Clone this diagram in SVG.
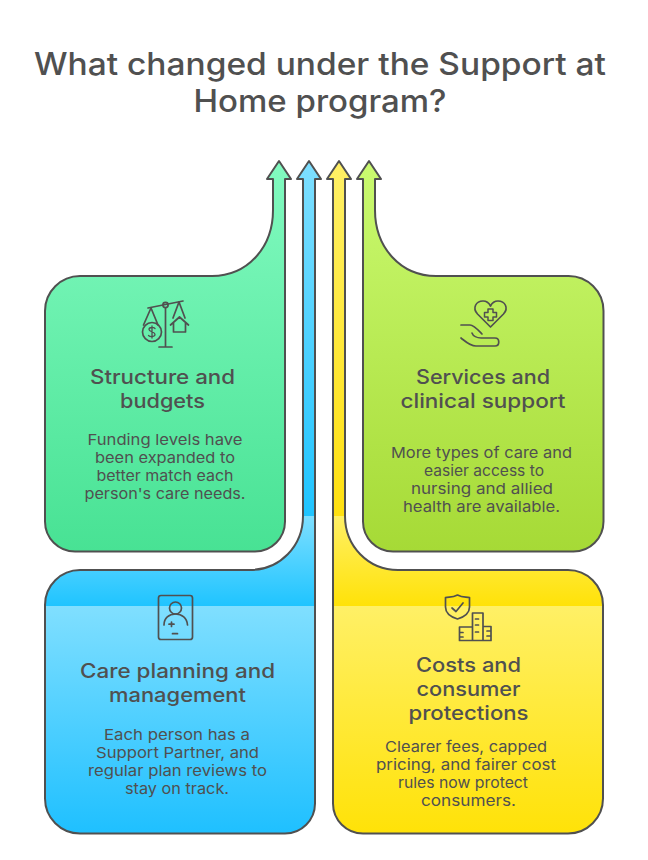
<svg xmlns="http://www.w3.org/2000/svg" width="648" height="860" viewBox="0 0 648 860">
<style>
text{font-family:"Inter","Open Sans","DejaVu Sans",sans-serif;fill:#505050;text-anchor:middle}
.t{font-size:31px;font-weight:500}
.h{font-size:20px;font-weight:500}
.b{font-size:15px}
.s{stroke:#505050;stroke-width:2;stroke-linejoin:round}
.i{fill:none;stroke:#505050;stroke-width:1.7;stroke-linecap:round;stroke-linejoin:round}
</style>
<defs>
<linearGradient id="gG" x1="0" y1="161" x2="0" y2="551" gradientUnits="userSpaceOnUse"><stop offset="0" stop-color="#82fac0"/><stop offset="1" stop-color="#48e294"/></linearGradient>
<linearGradient id="gL" x1="0" y1="161" x2="0" y2="551" gradientUnits="userSpaceOnUse"><stop offset="0" stop-color="#cafa70"/><stop offset="1" stop-color="#a6da36"/></linearGradient>
<linearGradient id="gB1" x1="0" y1="161" x2="0" y2="516" gradientUnits="userSpaceOnUse"><stop offset="0" stop-color="#7edfff"/><stop offset="1" stop-color="#1fc4ff"/></linearGradient>
<linearGradient id="gB2" x1="0" y1="516" x2="0" y2="606" gradientUnits="userSpaceOnUse"><stop offset="0" stop-color="#7edfff"/><stop offset="1" stop-color="#1fc4ff"/></linearGradient>
<linearGradient id="gB3" x1="0" y1="606" x2="0" y2="833" gradientUnits="userSpaceOnUse"><stop offset="0" stop-color="#80dfff"/><stop offset="1" stop-color="#1fc0ff"/></linearGradient>
<linearGradient id="gY1" x1="0" y1="161" x2="0" y2="516" gradientUnits="userSpaceOnUse"><stop offset="0" stop-color="#fff066"/><stop offset="1" stop-color="#ffe010"/></linearGradient>
<linearGradient id="gY2" x1="0" y1="516" x2="0" y2="606" gradientUnits="userSpaceOnUse"><stop offset="0" stop-color="#fff066"/><stop offset="1" stop-color="#ffe208"/></linearGradient>
<linearGradient id="gY3" x1="0" y1="606" x2="0" y2="833" gradientUnits="userSpaceOnUse"><stop offset="0" stop-color="#fff066"/><stop offset="1" stop-color="#ffe208"/></linearGradient>
<path id="pB" d="M309 161L321 179H315V803.500A30 30 0 0 1 285 833.500H80A35 35 0 0 1 45 798.500V605A35 35 0 0 1 80 570H250C280 570 303 546 303 516V179H297Z"/>
<path id="pY" d="M339 161L351 179H345V516C345 546 368 570 398 570H568A35 35 0 0 1 603 605V798.500A35 35 0 0 1 568 833.500H363A30 30 0 0 1 333 803.500V179H327Z"/>
<clipPath id="cB"><use href="#pB"/></clipPath>
<clipPath id="cY"><use href="#pY"/></clipPath>
</defs>
<text class="t" x="320" y="75" textLength="572" lengthAdjust="spacingAndGlyphs">What changed under the Support at</text>
<text class="t" x="320" y="112" textLength="253" lengthAdjust="spacingAndGlyphs">Home program?</text>

<g id="connectors">
<use href="#pB" fill="url(#gB1)"/>
<g clip-path="url(#cB)"><rect x="40" y="516" width="280" height="90" fill="url(#gB2)"/><rect x="40" y="606" width="280" height="230" fill="url(#gB3)"/></g>
<use href="#pB" fill="none" class="s"/>
<use href="#pY" fill="url(#gY1)"/>
<g clip-path="url(#cY)"><rect x="328" y="516" width="280" height="90" fill="url(#gY2)"/><rect x="328" y="606" width="280" height="230" fill="url(#gY3)"/></g>
<use href="#pY" fill="none" class="s"/>
<path d="M279 161L291 179H285V521.500A30 30 0 0 1 255 551.500H75A30 30 0 0 1 45 521.500V311A35 35 0 0 1 80 276H212C247 276 273 248 273 210V179H267Z" fill="url(#gG)" class="s"/>
<path d="M369 161L381 179H375V210C375 248 401 276 436 276H568A35 35 0 0 1 603.500 311V521.500A30 30 0 0 1 573.500 551.500H393A30 30 0 0 1 363 521.500V179H357Z" fill="url(#gL)" class="s"/>
</g>

<g id="structure">
<g class="i">
<path d="M148 308L183 301"/><circle cx="165.500" cy="305" r="2.600" fill="none"/><path d="M165.500 308V347M159 347H172"/>
<path d="M151 308L143.500 325M151 308L158 325"/><circle cx="152" cy="332" r="9.500"/>
<path d="M155 328.500C153.500 327 149 327 149 329.500C149 332 155 331.500 155 334.500C155 337 150 337 148.500 335.500M152 326V338" stroke-width="1.300"/>
<path d="M179 302L173 318M179 302L185 318"/><path d="M170.500 325L179.500 317L188.500 325M173.500 323V332H185.500V323"/>
</g>
<text class="h" x="162.500" y="384" textLength="145" lengthAdjust="spacingAndGlyphs">Structure and</text>
<text class="h" x="162.500" y="408" textLength="85" lengthAdjust="spacingAndGlyphs">budgets</text>
<text class="b" x="165" y="445" textLength="155" lengthAdjust="spacingAndGlyphs">Funding levels have</text>
<text class="b" x="165" y="463" textLength="140" lengthAdjust="spacingAndGlyphs">been expanded to</text>
<text class="b" x="165" y="481" textLength="137" lengthAdjust="spacingAndGlyphs">better match each</text>
<text class="b" x="165" y="499" textLength="161" lengthAdjust="spacingAndGlyphs">person's care needs.</text>
</g>

<g id="services">
<g class="i">
<path d="M490.500 327L477.500 314C472 308 476 301 483 301C486.500 301 489 303 490.500 306C492 303 494.500 301 498 301C505 301 509 308 503.500 314Z"/>
<path d="M488 309H493V312.500H496.500V317H493V320.500H488V317H484.500V312.500H488Z" stroke-width="1.500"/>
<path d="M461 325H470C474 325 480 332 482 334M472 333C473 336 477 338 481 338H495C500 338 500 346 495 346H476C470 346 466 342 461 338"/>
</g>
<text class="h" x="483" y="384" textLength="134" lengthAdjust="spacingAndGlyphs">Services and</text>
<text class="h" x="483" y="408" textLength="165" lengthAdjust="spacingAndGlyphs">clinical support</text>
<text class="b" x="481.500" y="458" textLength="181" lengthAdjust="spacingAndGlyphs">More types of care and</text>
<text class="b" x="484" y="476" textLength="120" lengthAdjust="spacingAndGlyphs">easier access to</text>
<text class="b" x="482" y="494" textLength="142" lengthAdjust="spacingAndGlyphs">nursing and allied</text>
<text class="b" x="481.500" y="512" textLength="157" lengthAdjust="spacingAndGlyphs">health are available.</text>
</g>

<g id="care">
<g class="i">
<rect x="158.500" y="595.500" width="34" height="44" rx="2.500"/>
<circle cx="175.500" cy="608" r="6"/>
<path d="M164 625C164 618 169 614 175.500 614C182 614 187 618 187.500 625M171.500 622V626.500M169 624.200H174M172.500 633.700H177.500"/>
</g>
<text class="h" x="177.500" y="678" textLength="195" lengthAdjust="spacingAndGlyphs">Care planning and</text>
<text class="h" x="177.500" y="702" textLength="137" lengthAdjust="spacingAndGlyphs">management</text>
<text class="b" x="177" y="740" textLength="146" lengthAdjust="spacingAndGlyphs">Each person has a</text>
<text class="b" x="177.500" y="758" textLength="163" lengthAdjust="spacingAndGlyphs">Support Partner, and</text>
<text class="b" x="177.500" y="776" textLength="179" lengthAdjust="spacingAndGlyphs">regular plan reviews to</text>
<text class="b" x="177" y="794" textLength="104" lengthAdjust="spacingAndGlyphs">stay on track.</text>
</g>

<g id="costs">
<g class="i">
<path d="M457.500 595C452 598 449 596.500 445.500 597.500V607C445.500 613 451 617 457.500 619C464 617 469.500 613 469.500 607V597.500C466 596.500 463 598 457.500 595Z"/>
<path d="M452 608L456 611.500L463 603"/>
<path d="M472.500 627V613H483V640.500H459.500V627H472.500M483 626.500H491V640.500H483M472.500 640.500V627M459.500 632.500H463M459.500 637H463M475.500 619H478.500M475.500 625H478.500M475.500 632H478.500M487 631H491M487 636H491"/>
</g>
<text class="h" x="468.500" y="672" textLength="105" lengthAdjust="spacingAndGlyphs">Costs and</text>
<text class="h" x="468.500" y="696" textLength="104" lengthAdjust="spacingAndGlyphs">consumer</text>
<text class="h" x="468.500" y="720" textLength="120" lengthAdjust="spacingAndGlyphs">protections</text>
<text class="b" x="466" y="752" textLength="162" lengthAdjust="spacingAndGlyphs">Clearer fees, capped</text>
<text class="b" x="466" y="770" textLength="180" lengthAdjust="spacingAndGlyphs">pricing, and fairer cost</text>
<text class="b" x="463" y="788" textLength="130" lengthAdjust="spacingAndGlyphs">rules now protect</text>
<text class="b" x="468.500" y="806" textLength="95" lengthAdjust="spacingAndGlyphs">consumers.</text>
</g>
</svg>
